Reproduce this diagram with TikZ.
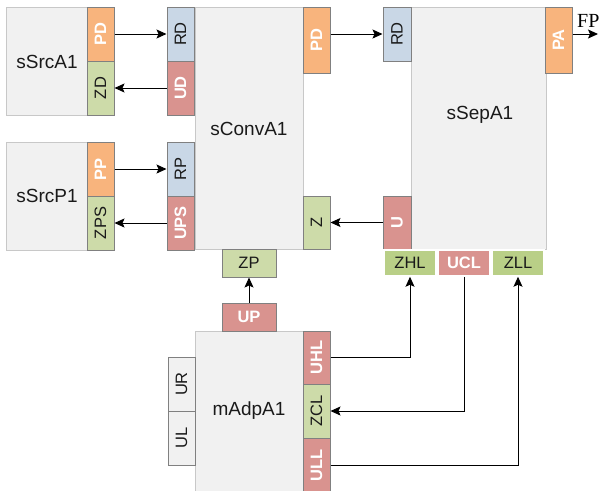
\documentclass[tikz,border=0pt]{standalone}
\usepackage{fontspec}
\setmainfont{Liberation Sans}
\newfontfamily\serifFP{Liberation Serif}
\usetikzlibrary{arrows.meta}
\definecolor{boxfill}{HTML}{F1F1F1}
\definecolor{boxline}{HTML}{C8C8C8}
\definecolor{portline}{HTML}{808080}
\definecolor{pOrange}{HTML}{F8B47D}
\definecolor{pRed}{HTML}{D9938F}
\definecolor{pBlue}{HTML}{C9D7E6}
\definecolor{pGreen}{HTML}{CDDBA9}
\definecolor{pGreenB}{HTML}{B9CF87}
\definecolor{txt}{HTML}{1A1A1A}
\tikzset{
  blk/.style={draw=boxline, fill=boxfill, line width=1pt, inner sep=0pt},
  blklabel/.style={font=\fontsize{19}{22}\selectfont, text=txt, inner sep=0pt},
  port/.style={draw=portline, line width=1pt, inner sep=0pt, font=\fontsize{16.5}{19}\selectfont},
  vport/.style={port, rotate=90},
  pO/.style={fill=pOrange, text=white, font=\fontsize{16.5}{19}\selectfont\bfseries},
  pR/.style={fill=pRed, text=white, font=\fontsize{16.5}{19}\selectfont\bfseries},
  pB/.style={fill=pBlue, text=txt},
  pG/.style={fill=pGreen, text=txt},
  bport/.style={draw=white, line width=1.5pt, inner sep=0pt, minimum width=52pt, minimum height=26pt, font=\fontsize{16.5}{19}\selectfont},
  conn/.style={line width=1pt, -{Stealth[length=10pt,width=9pt,inset=2pt]}},
}
\begin{document}
\begin{tikzpicture}[x=1pt,y=-1pt]
\clip (0,0) rectangle (601,490);
\fill[white] (0,0) rectangle (601,490);
% big blocks
\path[blk] (6,7) rectangle (87,115);
\node[blklabel] (srcA) at (47,62) {sSrcA1};
\path[blk] (6,142) rectangle (87,250);
\node[blklabel] (srcP) at (47,196) {sSrcP1};
\path[blk] (195,7) rectangle (303,249);
\node[blklabel] (conv) at (249,129) {sConvA1};
\path[blk] (411,7) rectangle (546,249);
\node[blklabel] (sep) at (480,115) {sSepA1};
\path[blk] (195,331) rectangle (303,500);
\node[blklabel] (adp) at (249,411) {mAdpA1};
% sSrcA1 ports
\node[vport,pO,minimum width=54pt,minimum height=27pt] (srcAPD) at (100.5,34) {PD};
\node[vport,pG,minimum width=54pt,minimum height=27pt] (srcAZD) at (100.5,88) {ZD};
% sSrcP1 ports
\node[vport,pO,minimum width=54pt,minimum height=27pt] (srcPPP) at (100.5,169) {PP};
\node[vport,pG,minimum width=54pt,minimum height=27pt] (srcPZPS) at (100.5,223) {ZPS};
% sConvA1 ports
\node[vport,pB,minimum width=54pt,minimum height=27pt] (convRD) at (180.5,34) {RD};
\node[vport,pR,minimum width=54pt,minimum height=27pt] (convUD) at (180.5,88) {UD};
\node[vport,pB,minimum width=54pt,minimum height=27pt] (convRP) at (180.5,169) {RP};
\node[vport,pR,minimum width=54pt,minimum height=27pt] (convUPS) at (180.5,223) {UPS};
\node[vport,pO,minimum width=66pt,minimum height=27pt] (convPD) at (316.5,40) {PD};
\node[vport,pG,minimum width=53pt,minimum height=27pt] (convZ) at (316.5,222.5) {Z};
\node[port,pG,minimum width=54pt,minimum height=28pt] (convZP) at (249,263) {ZP};
% sSepA1 ports
\node[vport,pB,minimum width=54pt,minimum height=28pt] (sepRD) at (397,34) {RD};
\node[vport,pO,minimum width=66pt,minimum height=27pt] (sepPA) at (558.5,40) {PA};
\node[vport,pR,minimum width=53pt,minimum height=28pt] (sepU) at (397,222.5) {U};
\node[bport,fill=pGreenB,text=txt] (sepZHL) at (410,263) {ZHL};
\node[bport,fill=pRed,text=white,font=\fontsize{16.5}{19}\selectfont\bfseries] (sepUCL) at (464,263) {UCL};
\node[bport,fill=pGreenB,text=txt] (sepZLL) at (518,263) {ZLL};
% mAdpA1 ports
\node[port,pR,minimum width=54pt,minimum height=28pt] (adpUP) at (249,317) {UP};
\node[vport,fill=boxfill,text=txt,minimum width=54pt,minimum height=27pt] (adpUR) at (181.5,384) {UR};
\node[vport,fill=boxfill,text=txt,minimum width=54pt,minimum height=27pt] (adpUL) at (181.5,438) {UL};
\node[vport,pR,minimum width=53pt,minimum height=27pt] (adpUHL) at (316.5,357.5) {UHL};
\node[vport,pG,minimum width=54pt,minimum height=27pt] (adpZCL) at (316.5,411) {ZCL};
\node[vport,pR,minimum width=54pt,minimum height=27pt] (adpULL) at (316.5,465) {ULL};
% FP label
\coordinate (fpend) at (598,34);
\node[anchor=base west, inner sep=0pt, font=\serifFP\fontsize{20}{22}\selectfont] (fp) at (577,27) {FP};
% connectors
\draw[conn] (srcAPD.south) -- (convRD.north);
\draw[conn] (convUD.north) -- (srcAZD.south);
\draw[conn] (srcPPP.south) -- (convRP.north);
\draw[conn] (convUPS.north) -- (srcPZPS.south);
\draw[conn] (convPD.south |- sepRD) -- (sepRD.north);
\draw[conn] (sepU.north) -- (convZ.south);
\draw[conn] (sepPA.south |- fpend) -- (fpend);
\draw[conn] (adpUP.north) -- (convZP.south);
\draw[conn] (adpUHL.south) -| (sepZHL.south);
\draw[conn] (sepUCL.south) |- (adpZCL.south);
\draw[conn] (adpULL.south) -| (sepZLL.south);
\end{tikzpicture}
\end{document}
